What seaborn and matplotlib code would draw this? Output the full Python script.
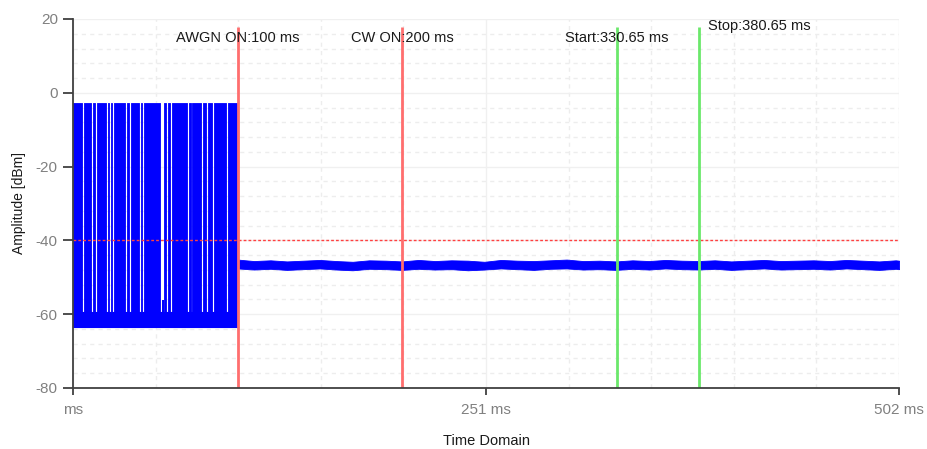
import matplotlib
matplotlib.use('Agg')
import matplotlib.pyplot as plt
from matplotlib.ticker import MultipleLocator
import seaborn as sns
import numpy as np

# Data -------------------------------------------------------------------------------------------
# burst section (0..100 ms): signal toggles between high and low level, gaps = stays low
burst_end_ms = 99.8
burst_high_db = -2.8
burst_low_top_db = -59.3
burst_low_bottom_db = -63.4
gap_start_ms = [5.4, 10.9, 13.6, 20.0, 22.1, 23.9, 31.7, 34.1, 40.2, 42.1, 52.6, 56.5, 58.9,
                69.3, 71.6, 77.7, 80.8, 84.6, 92.9]
gap_end_ms = [6.4, 11.9, 14.4, 21.0, 22.9, 24.7, 32.7, 35.1, 41.2, 42.9, 55.4, 57.5, 59.9,
              70.5, 72.6, 78.7, 81.8, 85.6, 93.9]
bump_ms = [54.0, 55.2]
bump_db = -56.2

# CW section (100..502 ms): noise band around -46.6 dBm
cw_time_ms = [100, 110, 120, 130, 140, 150, 160, 170, 180, 190, 200, 210, 220, 230, 240, 250,
              260, 270, 280, 290, 300, 310, 320, 330, 340, 350, 360, 370, 380, 390, 400, 410,
              420, 430, 440, 450, 460, 470, 480, 490, 500, 502]
cw_upper_db = [-45.2, -45.6, -45.4, -45.7, -45.5, -45.3, -45.6, -45.8, -45.4, -45.5, -45.7,
               -45.3, -45.6, -45.4, -45.5, -45.8, -45.3, -45.5, -45.6, -45.4, -45.2, -45.6,
               -45.5, -45.7, -45.4, -45.6, -45.3, -45.5, -45.6, -45.4, -45.7, -45.5, -45.3,
               -45.6, -45.5, -45.4, -45.6, -45.3, -45.5, -45.7, -45.4, -45.5]
cw_lower_db = [-47.6, -47.9, -47.7, -48.0, -47.8, -47.6, -47.9, -48.1, -47.7, -47.8, -48.0,
               -47.7, -47.9, -47.8, -48.1, -47.9, -47.6, -47.8, -48.0, -47.7, -47.6, -47.9,
               -47.8, -48.0, -47.7, -47.9, -47.6, -47.8, -47.9, -47.7, -48.0, -47.8, -47.6,
               -47.9, -47.8, -47.7, -47.9, -47.6, -47.8, -48.0, -47.7, -47.8]

threshold_db = -40
markers_ms = [100, 200, 330.65, 380.65]
marker_labels = ['AWGN ON:100 ms', 'CW ON:200 ms', 'Start:330.65 ms', 'Stop:380.65 ms']
marker_colors = ['#ff6e6e', '#ff6e6e', '#6be86b', '#6be86b']

x_ticks = [0, 251, 502]
x_tick_labels = ['ms', '251 ms', '502 ms']
y_ticks = [-80, -60, -40, -20, 0, 20]

# Plot -------------------------------------------------------------------------------------------
sns.set_theme(style='white')
plt.rcParams['font.family'] = ['Liberation Sans', 'DejaVu Sans']
plt.rcParams['axes.unicode_minus'] = False

fig = plt.figure(figsize=(9.28, 4.49), dpi=100)
ax = fig.add_axes([0.0787, 0.1359, 0.8901, 0.8218])

# grid: solid majors, dashed minors
ax.yaxis.set_minor_locator(MultipleLocator(4))
ax.xaxis.set_minor_locator(MultipleLocator(50.2))
ax.grid(which='major', color='#f0f0f0', linewidth=1.0, linestyle='-')
ax.grid(which='minor', color='#ededed', linewidth=1.0, linestyle=(0, (3, 3)))
ax.set_axisbelow(True)

blue = '#0000ff'

# burst: low band under everything, high blocks between the gaps
ax.fill_between([0, burst_end_ms], burst_low_bottom_db, burst_low_top_db, color=blue, lw=0.8)
on_start = [0] + gap_end_ms
on_end = gap_start_ms + [burst_end_ms]
for s, e in zip(on_start, on_end):
    ax.fill_between([s, e], burst_low_bottom_db, burst_high_db, color=blue, lw=0.6)
ax.fill_between(bump_ms, burst_low_top_db, bump_db, color=blue, lw=0)

# CW noise band
ax.fill_between(cw_time_ms, cw_lower_db, cw_upper_db, color=blue, lw=0.6)
cw_mid = [(u + l) / 2 for u, l in zip(cw_upper_db, cw_lower_db)]
sns.lineplot(x=cw_time_ms, y=cw_mid, color=blue, linewidth=1.5, ax=ax)

# threshold
ax.axhline(threshold_db, color='#ff4040', linewidth=1.0, linestyle=(0, (2, 1.5)))

# markers
for i, (m, lab, c) in enumerate(zip(markers_ms, marker_labels, marker_colors)):
    ax.vlines(m, -80, 17.8, color=c, linewidth=2)
    if i < 3:
        ax.text(m, 14.9, lab, ha='center', va='center', fontsize=10.5, color='#1a1a1a')
    else:
        ax.text(m + 5.5, 18.1, lab, ha='left', va='center', fontsize=10.5, color='#1a1a1a')

ax.set(xlim=(0, 502), ylim=(-80, 20))
ax.set_xticks(x_ticks)
ax.set_xticklabels(x_tick_labels)
ax.set_yticks(y_ticks)

for side in ['top', 'right']:
    ax.spines[side].set_visible(False)
for side in ['left', 'bottom']:
    ax.spines[side].set_color('#404040')
    ax.spines[side].set_linewidth(1.3)

ax.tick_params(axis='y', which='major', left=True, length=7, width=1.3, color='#404040',
               labelsize=11, labelcolor='#808080', pad=4)
ax.tick_params(axis='x', which='major', bottom=True, length=5, width=1.3, color='#404040',
               labelsize=11, labelcolor='#808080', pad=6)
ax.tick_params(which='minor', length=0)

ax.set_xlabel('Time Domain', fontsize=10.5, color='#1a1a1a', labelpad=12)
ax.set_ylabel('Amplitude [dBm]', fontsize=10, color='#1a1a1a', labelpad=7)

plt.savefig('out.png', dpi=100)
